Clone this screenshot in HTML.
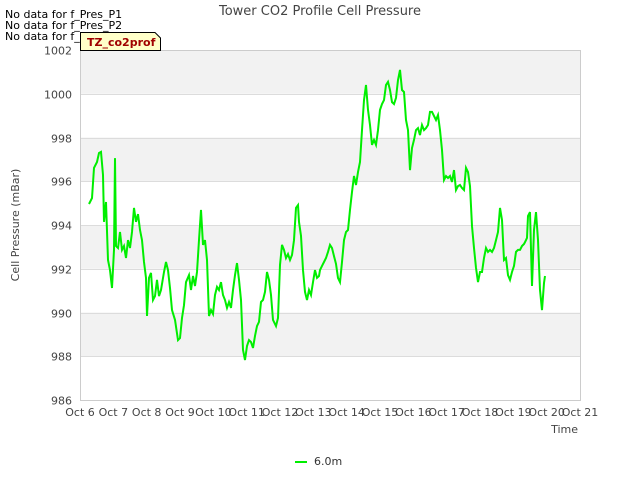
<!DOCTYPE html>
<html><head><meta charset="utf-8"><style>
body{margin:0;background:#fff;font-family:"Liberation Sans","DejaVu Sans",sans-serif}
svg text{font-family:"DejaVu Sans","Liberation Sans",sans-serif}
</style></head><body>
<svg id="chart" width="640" height="480" viewBox="0 0 640 480" xmlns="http://www.w3.org/2000/svg">
<g id="bands"></g><g id="grid"></g>
<rect x="80.5" y="50.5" width="500" height="350" fill="none" stroke="#ccc"/>
<g id="ticks"></g>
<path id="line" fill="none" stroke="#00ee00" stroke-width="2"/>
<text x="320" y="15" text-anchor="middle" font-size="13" fill="#444">Tower CO2 Profile Cell Pressure</text>
<text x="19" y="225" text-anchor="middle" font-size="11" fill="#444" transform="rotate(-90 19 225)">Cell Pressure (mBar)</text>
<text x="578" y="433" text-anchor="end" font-size="11" fill="#444">Time</text>
<text x="5" y="18" font-size="11" fill="#000">No data for f_Pres_P1</text>
<text x="5" y="29" font-size="11" fill="#000">No data for f_Pres_P2</text>
<text x="5" y="40" font-size="11" fill="#000">No data for f_Pres_P4</text>
<g>
<path d="M80.5 32.5 H155 L160.5 38 V50.5 H80.5 Z" fill="#ffffc8" stroke="#000" stroke-width="1"/>
<text x="87" y="46" font-size="11" font-weight="bold" fill="#a00000">TZ_co2prof</text></g>
<g>
<line x1="295" y1="462" x2="307" y2="462" stroke="#00ee00" stroke-width="2"/>
<text x="314" y="465" font-size="11" fill="#333">6.0m</text></g>
</svg>
<script>
const yTicks=[986,988,990,992,994,996,998,1000,1002];
const xLabels=["Oct 6","Oct 7","Oct 8","Oct 9","Oct 10","Oct 11","Oct 12","Oct 13","Oct 14","Oct 15","Oct 16","Oct 17","Oct 18","Oct 19","Oct 20","Oct 21"];
const days=[0.27,0.36,0.42,0.51,0.57,0.63,0.69,0.72,0.78,0.84,0.90,0.96,1.02,1.05,1.08,1.14,1.20,1.26,1.32,1.38,1.44,1.50,1.56,1.62,1.68,1.74,1.80,1.86,1.92,1.98,2.01,2.07,2.13,2.19,2.25,2.31,2.37,2.43,2.52,2.58,2.64,2.70,2.76,2.85,2.94,3.00,3.06,3.12,3.18,3.27,3.33,3.39,3.45,3.51,3.57,3.63,3.69,3.75,3.81,3.87,3.93,3.99,4.05,4.11,4.17,4.23,4.29,4.35,4.41,4.47,4.53,4.59,4.65,4.71,4.77,4.83,4.89,4.95,5.01,5.07,5.13,5.19,5.25,5.31,5.37,5.43,5.49,5.55,5.61,5.67,5.73,5.79,5.88,5.94,6.00,6.06,6.12,6.18,6.24,6.30,6.36,6.42,6.48,6.54,6.57,6.63,6.69,6.75,6.81,6.87,6.93,6.99,7.05,7.11,7.17,7.20,7.26,7.32,7.38,7.44,7.50,7.56,7.62,7.68,7.74,7.80,7.86,7.92,7.98,8.04,8.10,8.16,8.22,8.28,8.34,8.40,8.46,8.52,8.58,8.64,8.70,8.76,8.82,8.88,8.94,9.00,9.06,9.12,9.18,9.24,9.30,9.36,9.42,9.48,9.54,9.60,9.66,9.72,9.78,9.84,9.90,9.96,10.02,10.08,10.14,10.20,10.26,10.32,10.38,10.44,10.50,10.56,10.68,10.74,10.80,10.86,10.92,10.98,11.04,11.10,11.16,11.22,11.28,11.34,11.40,11.46,11.52,11.58,11.64,11.70,11.76,11.82,11.88,11.94,12.00,12.06,12.12,12.18,12.24,12.30,12.36,12.42,12.48,12.54,12.60,12.66,12.72,12.78,12.84,12.90,12.96,13.02,13.08,13.14,13.20,13.26,13.32,13.35,13.38,13.41,13.44,13.50,13.56,13.62,13.68,13.74,13.80,13.86,13.92,13.95];
const pressure=[994.96,995.23,996.61,996.88,997.29,997.34,996.29,994.14,995.05,992.4,991.94,991.12,992.86,997.06,993.04,992.95,993.68,992.86,993.04,992.49,993.31,992.95,993.68,994.78,994.14,994.5,993.77,993.31,992.31,991.58,989.84,991.58,991.81,990.57,990.75,991.49,990.75,991.03,991.85,992.31,991.94,991.12,990.11,989.66,988.74,988.83,989.75,990.34,991.39,991.71,991.03,991.67,991.21,991.85,993.31,994.69,993.09,993.31,992.4,989.84,990.11,989.93,990.8,991.17,991.03,991.39,990.8,990.57,990.21,990.48,990.21,991.03,991.71,992.26,991.49,990.57,988.29,987.83,988.47,988.74,988.65,988.38,988.93,989.38,989.57,990.48,990.57,990.94,991.85,991.49,990.8,989.66,989.38,989.75,992.17,993.09,992.86,992.49,992.67,992.4,992.63,993.31,994.78,994.91,994.14,993.5,991.94,990.94,990.57,991.03,990.8,991.39,991.94,991.58,991.67,991.94,992.13,992.31,992.49,992.77,993.09,992.95,992.58,992.22,991.58,991.39,992.31,993.31,993.68,993.77,994.69,995.51,996.24,995.83,996.42,996.88,998.34,999.71,1000.4,999.26,998.57,997.66,997.89,997.66,998.34,999.26,999.53,999.71,1000.4,1000.54,1000.17,999.62,999.53,999.81,1000.63,1001.09,1000.17,1000.08,998.8,998.34,996.51,997.52,997.89,998.34,998.43,998.11,998.57,998.34,998.43,998.57,999.17,999.17,998.8,999.03,998.34,997.43,996.06,996.24,996.15,996.24,995.97,996.51,995.6,995.78,995.83,995.69,995.6,996.61,996.42,995.78,993.95,992.95,992.04,991.39,991.85,991.85,992.49,992.95,992.77,992.86,992.77,992.95,993.31,993.68,994.78,994.23,992.4,992.49,991.71,991.49,991.85,992.13,992.77,992.86,992.86,993.04,993.13,993.22,993.31,993.41,994.41,994.59,991.21,993.77,994.59,993.31,991.03,990.11,991.35,991.67,991.71,991.85,991.76,991.76,991.71];
const X0=80,X1=580,Y0=400,Y1=50,DMAX=15,VMIN=986,VMAX=1002;
const xs=d=>X0+(d/DMAX)*(X1-X0);
const ys=v=>Y0-(v-VMIN)/(VMAX-VMIN)*(Y0-Y1);
const NS="http://www.w3.org/2000/svg";
function mk(tag,attrs,parent){const e=document.createElementNS(NS,tag);for(const k in attrs)e.setAttribute(k,attrs[k]);document.getElementById(parent).appendChild(e);return e;}
for(let i=0;i<yTicks.length-1;i++){
  if(i%2===1){const r=mk('rect',{x:X0,y:ys(yTicks[i+1]),width:X1-X0,height:ys(yTicks[i])-ys(yTicks[i+1]),fill:'#f2f2f2'},'bands');
  
  }
}
yTicks.forEach(v=>{
  const y=Math.round(ys(v))+0.5;
  const g=mk('line',{x1:X0,x2:X1,y1:y,y2:y,stroke:'#dcdcdc'},'grid');
  
  
  const t=mk('text',{x:72,y:y+4,'text-anchor':'end','font-size':11,fill:'#444'},'ticks');
  t.textContent=v;
  
  
});
xLabels.forEach((l,i)=>{
  const x=xs(i);
  const t=mk('text',{x:x,y:416,'text-anchor':'middle','font-size':11,fill:'#444'},'ticks');
  t.textContent=l;
  
  
});
let d='';
days.forEach((dd,i)=>{d+=(i?'L':'M')+xs(dd).toFixed(1)+' '+ys(pressure[i]).toFixed(1);});
document.getElementById('line').setAttribute('d',d);
</script>
</body></html>
